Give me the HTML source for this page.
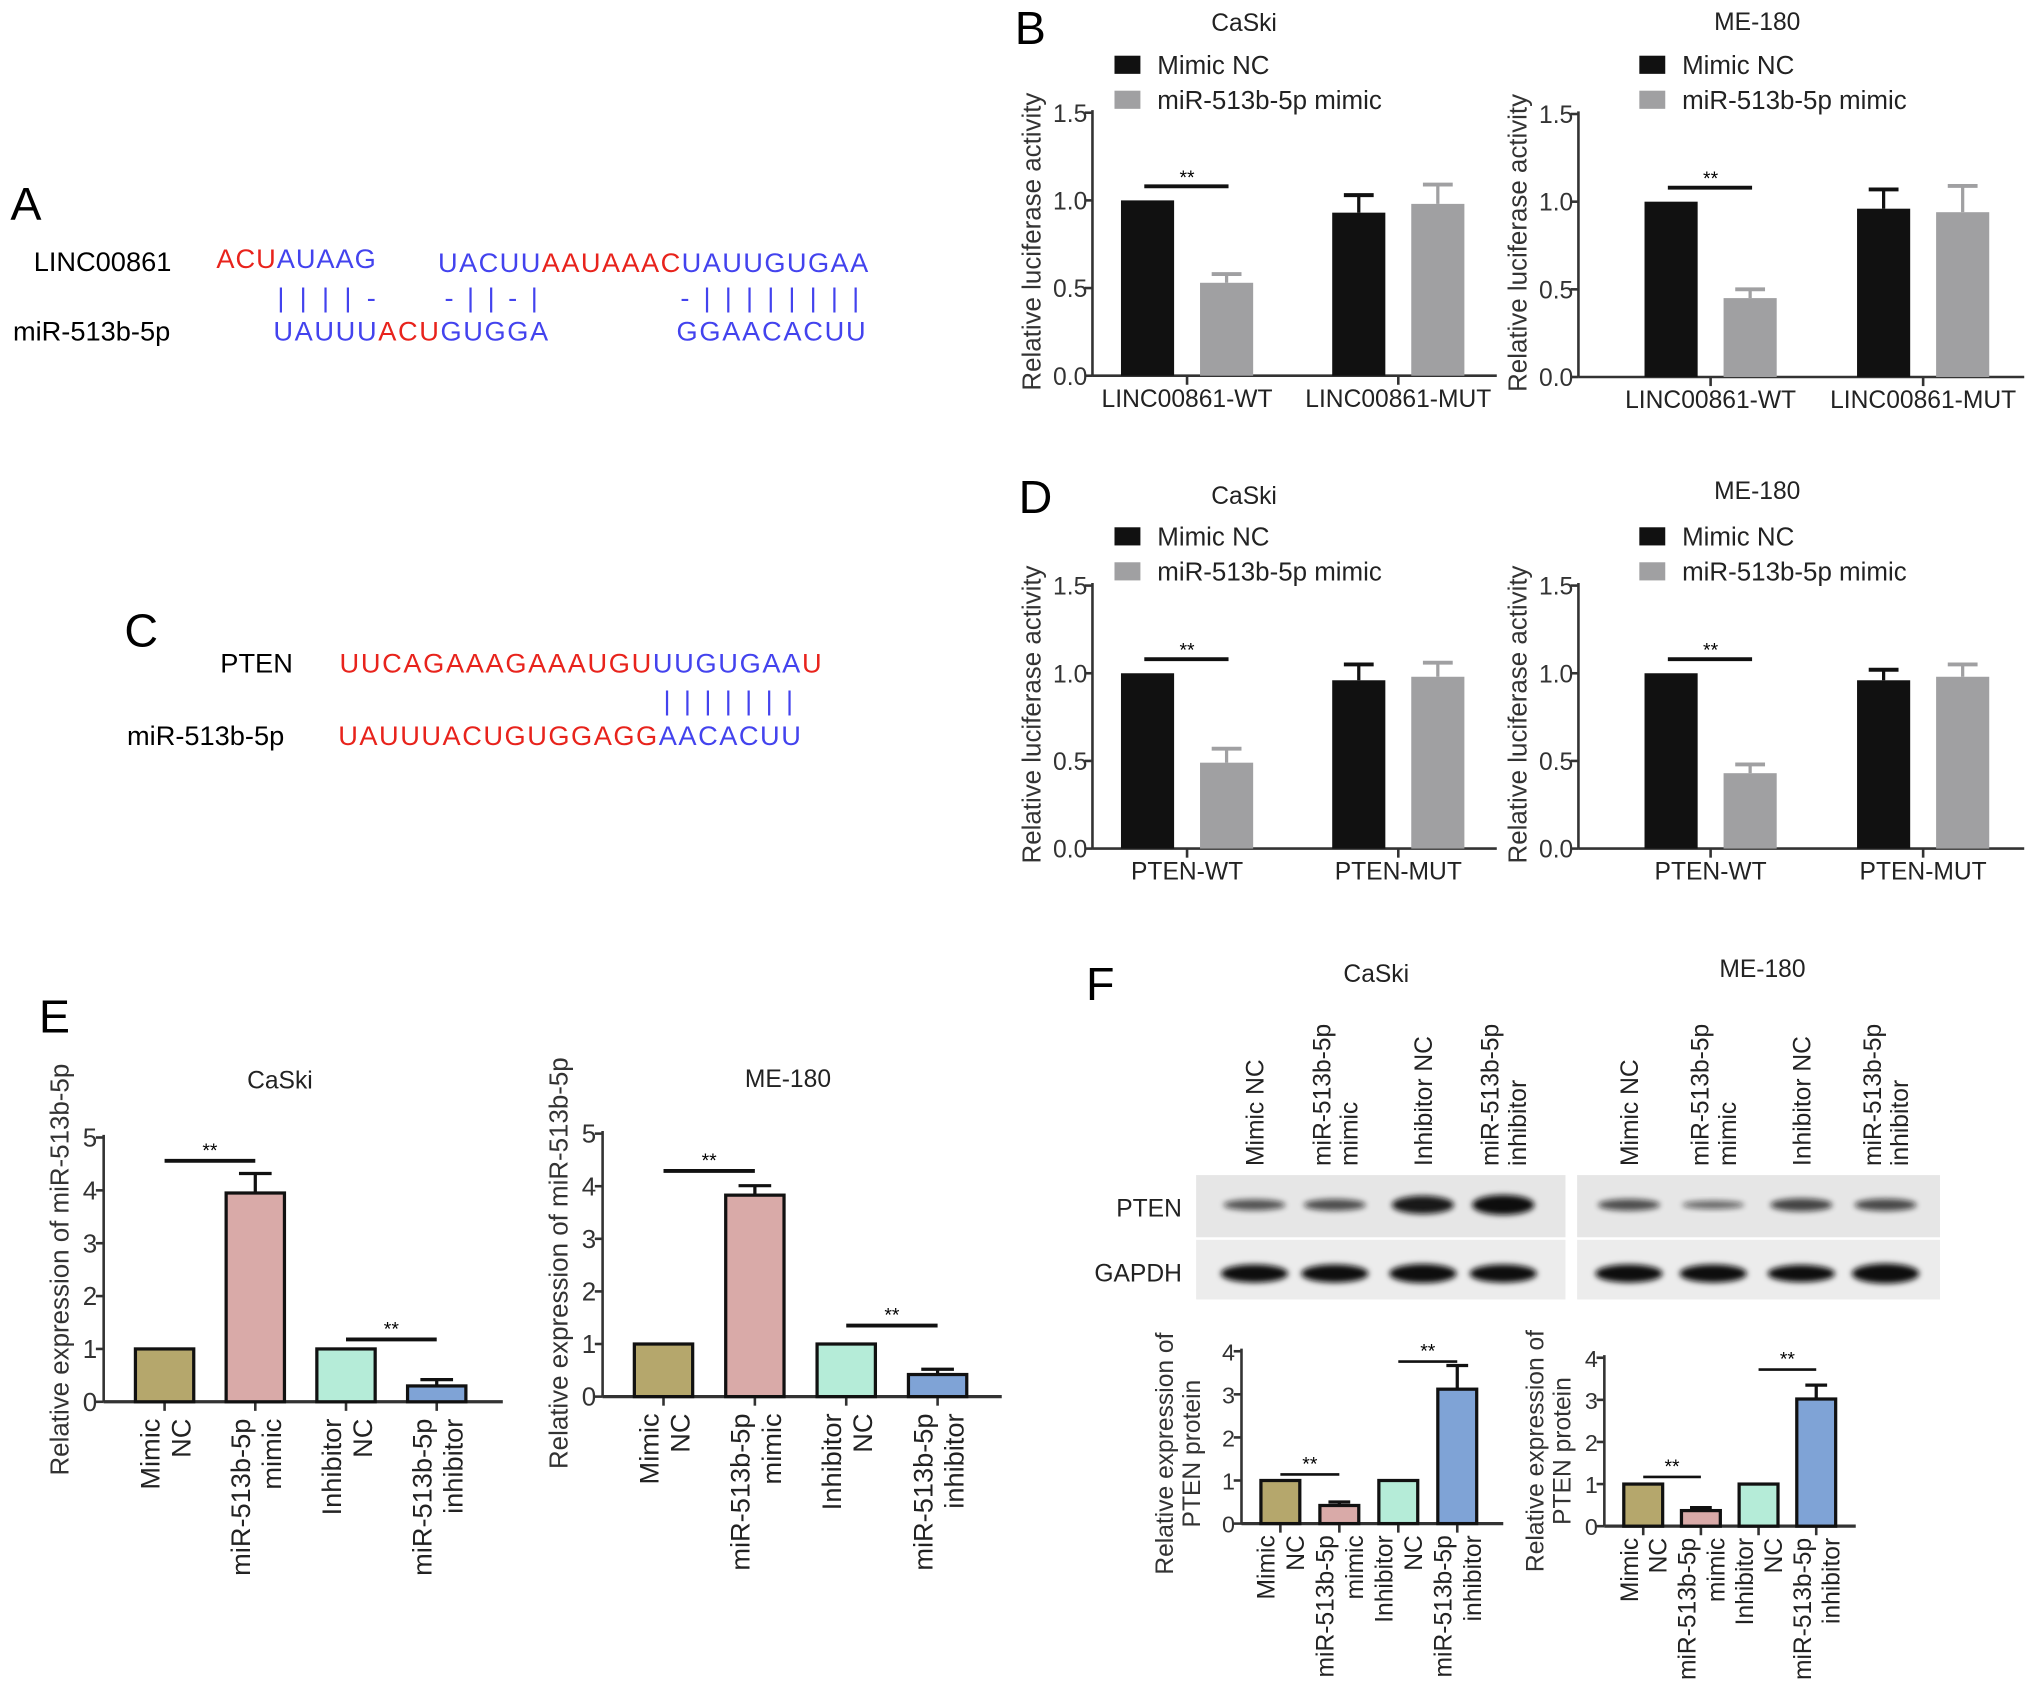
<!DOCTYPE html>
<html><head><meta charset="utf-8"><style>
html,body{margin:0;padding:0;background:#fff;}
svg{display:block;font-family:"Liberation Sans",Arial,sans-serif;}
</style></head><body>
<svg id="fig" xmlns="http://www.w3.org/2000/svg" width="2032" height="1692" viewBox="0 0 1568 1306" preserveAspectRatio="none">
<defs><filter id="blur" x="-20%" y="-50%" width="140%" height="200%"><feGaussianBlur stdDeviation="2.2"/></filter></defs>
<g font-size="21">
<text x="8" y="170" font-size="36">A</text>
<text x="26" y="209">LINC00861</text>
<text x="167" y="207" textLength="123"><tspan fill="#e8231c">ACU</tspan><tspan fill="#4343ee">AUAAG</tspan></text>
<text x="338" y="210" textLength="332"><tspan fill="#4343ee">UACUU</tspan><tspan fill="#e8231c">AAUAAAC</tspan><tspan fill="#4343ee">UAUUGUGAA</tspan></text>
<text x="214" y="237" fill="#4343ee" textLength="76" xml:space="preserve">| | | | -</text>
<text x="343" y="237" fill="#4343ee" textLength="72" xml:space="preserve">- | | - |</text>
<text x="525" y="237" fill="#4343ee" textLength="138" xml:space="preserve">- | | | | | | | |</text>
<text x="10" y="263">miR-513b-5p</text>
<text x="211" y="263" textLength="212"><tspan fill="#4343ee">UAUUU</tspan><tspan fill="#e8231c">ACU</tspan><tspan fill="#4343ee">GUGGA</tspan></text>
<text x="522" y="263" fill="#4343ee" textLength="146">GGAACACUU</text>
</g>
<g font-size="21">
<text x="96" y="499" font-size="36">C</text>
<text x="170" y="519">PTEN</text>
<text x="262" y="519" textLength="372"><tspan fill="#e8231c">UUCAGAAAGAAAUGU</tspan><tspan fill="#4343ee">UUGUGAA</tspan><tspan fill="#e8231c">U</tspan></text>
<text x="512" y="548" fill="#4343ee" textLength="100" xml:space="preserve">| | | | | | |</text>
<text x="98" y="575">miR-513b-5p</text>
<text x="261" y="575" textLength="357"><tspan fill="#e8231c">UAUUUACUGUGGAGG</tspan><tspan fill="#4343ee">AACACUU</tspan></text>
</g>
<text x="783" y="34" font-size="36">B</text>
<text x="786" y="396" font-size="36">D</text>
<text x="30" y="797" font-size="36">E</text>
<text x="838" y="772" font-size="36">F</text>
<g id="charts"></g>
</svg>
<script>
// Luciferase data (B, D)
const lucGroupsB = ["LINC00861-WT", "LINC00861-MUT"];
const lucGroupsD = ["PTEN-WT", "PTEN-MUT"];
const lucTicks = [0, 0.5, 1.0, 1.5];
const lucTickLabels = ["0.0", "0.5", "1.0", "1.5"];
const bCaskiNC = [1.0, 0.93];
const bCaskiNCErr = [0, 0.10];
const bCaskiMimic = [0.53, 0.98];
const bCaskiMimicErr = [0.05, 0.11];
const bMeNC = [1.0, 0.96];
const bMeNCErr = [0, 0.11];
const bMeMimic = [0.45, 0.94];
const bMeMimicErr = [0.05, 0.15];
const dCaskiNC = [1.0, 0.96];
const dCaskiNCErr = [0, 0.09];
const dCaskiMimic = [0.49, 0.98];
const dCaskiMimicErr = [0.08, 0.08];
const dMeNC = [1.0, 0.96];
const dMeNCErr = [0, 0.06];
const dMeMimic = [0.43, 0.98];
const dMeMimicErr = [0.05, 0.07];
const lucSig = 1.08;
// miR expression (E)
const eCategories = [["Mimic","NC"],["miR-513b-5p","mimic"],["Inhibitor","NC"],["miR-513b-5p","inhibitor"]];
const eTicks = [0,1,2,3,4,5];
const eCaski = [1, 3.95, 1, 0.30];
const eCaskiErr = [0, 0.37, 0, 0.12];
const eMe = [1, 3.83, 1, 0.42];
const eMeErr = [0, 0.18, 0, 0.10];
const eCaskiSig = [4.56, 1.18];
const eMeSig = [4.29, 1.35];
// PTEN protein (F)
const fTicks = [0,1,2,3,4];
const fCaski = [1, 0.42, 1, 3.12];
const fCaskiErr = [0, 0.08, 0, 0.55];
const fMe = [1, 0.37, 1, 3.02];
const fMeErr = [0, 0.07, 0, 0.33];
const fCaskiSig = [1.14, 3.76];
const fMeSig = [1.17, 3.72];
const fLabels = ["Mimic","NC","miR-513b-5p","mimic","Inhibitor","NC","miR-513b-5p","inhibitor"];
const barColors = ["#b5a76c","#d9aaa8","#b5ecd8","#7fa3d6"];
const laneLabels = [["Mimic NC"],["miR-513b-5p","mimic"],["Inhibitor NC"],["miR-513b-5p","inhibitor"]];
const ptenCaski = [0.45, 0.5, 1.0, 1.15];
const ptenMe = [0.5, 0.25, 0.6, 0.55];
const gapdhCaski = [1, 1, 1.05, 1];
const gapdhMe = [1, 1, 0.95, 1.1];

const NS = "http://www.w3.org/2000/svg";
const root = document.getElementById("charts");
function mk(tag, attrs, parent, txt){
  const e = document.createElementNS(NS, tag);
  for (const k in attrs) e.setAttribute(k, attrs[k]);
  if (txt !== undefined) e.textContent = txt;
  (parent || root).appendChild(e);
  return e;
}
function grp(name){ const g = mk("g", {});
  
  
  return g; }

function lucChart(o){
  const g = grp(o.name);
  const y = v => o.y0 - (v/1.5)*(o.y0-o.y1);
  const axY = mk("line",{x1:o.x0,y1:o.y1-2,x2:o.x0,y2:o.y0,stroke:"#333","stroke-width":2},g);
  
  
  const axX = mk("line",{x1:o.x0,y1:o.y0,x2:o.xEnd,y2:o.y0,stroke:"#333","stroke-width":2},g);
  
  
  lucTicks.forEach((t,i)=>{
    mk("line",{x1:o.x0-6,y1:y(t),x2:o.x0,y2:y(t),stroke:"#333","stroke-width":2},g);
    const tl = mk("text",{x:o.x0-4,y:y(t)+7,"text-anchor":"end","font-size":19,fill:"#333"},g,lucTickLabels[i]);
    
    
  });
  const yl = mk("text",{x:0,y:0,"font-size":20,"text-anchor":"middle",fill:"#333",transform:`translate(${o.x0-40},${(o.y0+o.y1)/2-2}) rotate(-90)`},g,"Relative luciferase activity");
  
  
  const tt = mk("text",{x:o.titleX,y:o.titleY,"font-size":19,"text-anchor":"middle",fill:"#222"},g,o.title);
  
  
  [["Mimic NC","#111"],["miR-513b-5p mimic","#a0a0a2"]].forEach((L,i)=>{
    const ly = o.legY + i*27;
    const sq = mk("rect",{x:o.legX,y:ly-7,width:20,height:14,fill:L[1]},g);
    
    
    const lt = mk("text",{x:o.legX+33,y:ly+7,"font-size":20,fill:"#222"},g,L[0]);
    
    
  });
  o.groups.forEach((lab,gi)=>{
    const c = o.c0 + gi*o.step;
    mk("line",{x1:c,y1:o.y0,x2:c,y2:o.y0+7,stroke:"#333","stroke-width":2},g);
    const xl = mk("text",{x:c,y:o.y0+24,"font-size":19,"text-anchor":"middle",fill:"#222"},g,lab);
    
    
    [[o.nc,o.ncErr,"#111",-30.5],[o.mi,o.miErr,"#a0a0a2",30.5]].forEach(s=>{
      const v=s[0][gi], e=s[1][gi], bx=c+s[3]-20.5;
      if(e>0){ mk("line",{x1:bx+20.5,y1:y(v),x2:bx+20.5,y2:y(v+e),stroke:s[2],"stroke-width":2.5},g);
        mk("line",{x1:bx+9,y1:y(v+e),x2:bx+32,y2:y(v+e),stroke:s[2],"stroke-width":3},g); }
      const b = mk("rect",{x:bx,y:y(v),width:41,height:o.y0-y(v),fill:s[2]},g);
      
      
    });
  });
  const c = o.c0;
  const sl = mk("line",{x1:c-33,y1:y(lucSig),x2:c+32,y2:y(lucSig),stroke:"#111","stroke-width":3},g);
  
  
  mk("text",{x:c,y:y(lucSig)-2,"font-size":15,"text-anchor":"middle"},g,"**");
}
lucChart({name:"chart-b-caski",x0:843,xEnd:1155,y0:290,y1:87,c0:916,step:163,groups:lucGroupsB,nc:bCaskiNC,ncErr:bCaskiNCErr,mi:bCaskiMimic,miErr:bCaskiMimicErr,title:"CaSki",titleX:960,titleY:24,legX:860,legY:50});
lucChart({name:"chart-b-me180",x0:1218,xEnd:1562,y0:291,y1:88,c0:1320,step:164,groups:lucGroupsB,nc:bMeNC,ncErr:bMeNCErr,mi:bMeMimic,miErr:bMeMimicErr,title:"ME-180",titleX:1356,titleY:23,legX:1265,legY:50});
lucChart({name:"chart-d-caski",x0:843,xEnd:1155,y0:655,y1:452,c0:916,step:163,groups:lucGroupsD,nc:dCaskiNC,ncErr:dCaskiNCErr,mi:dCaskiMimic,miErr:dCaskiMimicErr,title:"CaSki",titleX:960,titleY:389,legX:860,legY:414});
lucChart({name:"chart-d-me180",x0:1218,xEnd:1562,y0:655,y1:452,c0:1320,step:164,groups:lucGroupsD,nc:dMeNC,ncErr:dMeNCErr,mi:dMeMimic,miErr:dMeMimicErr,title:"ME-180",titleX:1356,titleY:385,legX:1265,legY:414});

function expChart(o){
  const g = grp(o.name);
  const mx = o.ticks[o.ticks.length-1];
  const y = v => o.y0 - (v/mx)*(o.y0-o.y1);
  const axY = mk("line",{x1:o.x0,y1:o.y1-2,x2:o.x0,y2:o.y0,stroke:"#333","stroke-width":2},g);
  
  
  const axX = mk("line",{x1:o.x0,y1:o.y0,x2:o.xEnd,y2:o.y0,stroke:"#333","stroke-width":2.5},g);
  
  
  o.ticks.forEach(t=>{
    mk("line",{x1:o.x0-6,y1:y(t),x2:o.x0,y2:y(t),stroke:"#333","stroke-width":2},g);
    const tl = mk("text",{x:o.x0-5,y:y(t)+7,"text-anchor":"end","font-size":o.fs,fill:"#333"},g,String(t));
    
    
  });
  o.ylab.forEach((s,i)=>{
    const yl = mk("text",{x:0,y:0,"font-size":o.yfs,"text-anchor":"middle",fill:"#333",transform:`translate(${o.ylX+i*21},${o.ylY}) rotate(-90)`},g,s);
    
    
  });
  if(o.title){ const tt = mk("text",{x:o.titleX,y:o.titleY,"font-size":19,"text-anchor":"middle",fill:"#222"},g,o.title);
    
     }
  o.vals.forEach((v,i)=>{
    const c = o.c0 + i*o.step, e=o.err[i], w=o.bw;
    mk("line",{x1:c,y1:o.y0,x2:c,y2:o.y0+7,stroke:"#333","stroke-width":2},g);
    if(e>0){ mk("line",{x1:c,y1:y(v),x2:c,y2:y(v+e),stroke:"#111","stroke-width":2.5},g);
      mk("line",{x1:c-w*0.28,y1:y(v+e),x2:c+w*0.28,y2:y(v+e),stroke:"#111","stroke-width":2.5},g); }
    const b = mk("rect",{x:c-w/2,y:y(v),width:w,height:o.y0-y(v),fill:barColors[i],stroke:"#111","stroke-width":2.5},g);
    
    
  });
  o.sig.forEach((s,k)=>{
    const a = o.c0 + (2*k)*o.step, bb = o.c0+(2*k+1)*o.step;
    const sl = mk("line",{x1:a,y1:y(s),x2:bb,y2:y(s),stroke:"#111","stroke-width":o.sigW},g);
    
    
    mk("text",{x:(a+bb)/2,y:y(s)-3,"font-size":15,"text-anchor":"middle"},g,"**");
  });
  o.xl(g, o);
}
function eLabels(g,o){
  eCategories.forEach((c,i)=>{
    const cx=o.c0+i*o.step;
    c.forEach((s,j)=>{
      const t = mk("text",{x:0,y:0,"font-size":21,"text-anchor":"end",fill:"#222",transform:`translate(${cx-4+j*24},${o.y0+13}) rotate(-90)`},g,s);
      
      
    });
  });
}
function fLabels2(g,o){
  fLabels.forEach((s,i)=>{
    const cx=o.c0 - o.step/4 + i*o.step/2;
    const t = mk("text",{x:0,y:0,"font-size":19,"text-anchor":"end",fill:"#222",transform:`translate(${cx+7},${o.y0+9}) rotate(-90)`},g,s);
    
    
  });
}
expChart({name:"chart-e-caski",x0:80,xEnd:388,y0:1082,y1:878,c0:127,step:70,bw:45,ticks:eTicks,fs:20,yfs:20,vals:eCaski,err:eCaskiErr,sig:eCaskiSig,sigW:3,ylab:["Relative expression of miR-513b-5p"],ylX:53,ylY:980,title:"CaSki",titleX:216,titleY:840,xl:eLabels});
expChart({name:"chart-e-me180",x0:465,xEnd:773,y0:1078,y1:875,c0:512,step:70.5,bw:45,ticks:eTicks,fs:20,yfs:20,vals:eMe,err:eMeErr,sig:eMeSig,sigW:3,ylab:["Relative expression of miR-513b-5p"],ylX:438,ylY:975,title:"ME-180",titleX:608,titleY:839,xl:eLabels});
expChart({name:"chart-f-caski",x0:958,xEnd:1160,y0:1176,y1:1043,c0:988,step:45.5,bw:30,ticks:fTicks,fs:18,yfs:19,vals:fCaski,err:fCaskiErr,sig:fCaskiSig,sigW:2,ylab:["Relative expression of","PTEN protein"],ylX:905,ylY:1122,xl:fLabels2});
expChart({name:"chart-f-me180",x0:1238,xEnd:1432,y0:1178,y1:1048,c0:1268,step:44.5,bw:30,ticks:fTicks,fs:18,yfs:19,vals:fMe,err:fMeErr,sig:fMeSig,sigW:2,ylab:["Relative expression of","PTEN protein"],ylX:1191,ylY:1120,xl:fLabels2});

// Western blots
function blot(name, x0, w, lanes, pten, gapdh, title, tx, ty){
  const g = grp(name);
  const tt = mk("text",{x:tx,y:ty,"font-size":19,"text-anchor":"middle",fill:"#222"},g,title);
  
  
  const r1 = mk("rect",{x:x0,y:907,width:w,height:48,fill:"#e6e6e6"},g);
  
  
  const r2 = mk("rect",{x:x0,y:957,width:w,height:46,fill:"#ececec"},g);
  
  
  lanes.forEach((c,i)=>{
    const p = mk("ellipse",{cx:c,cy:930,rx:24,ry:2+5*pten[i],fill:"#111",opacity:Math.min(1,0.45+0.5*pten[i]),filter:"url(#blur)"},g);
    
    
    const q = mk("ellipse",{cx:c,cy:983,rx:26,ry:7*gapdh[i],fill:"#111",filter:"url(#blur)"},g);
    
    
    laneLabels[i].forEach((s,j)=>{
      const n = laneLabels[i].length;
      const t = mk("text",{x:0,y:0,"font-size":19,fill:"#222",transform:`translate(${c+7+(j-(n-1)/2)*21},${900}) rotate(-90)`},g,s);
      
      
    });
  });
}
blot("blot-caski", 923, 285, [968,1030,1098,1160], ptenCaski, gapdhCaski, "CaSki", 1062, 758);
blot("blot-me180", 1217, 280, [1257,1322,1390,1455], ptenMe, gapdhMe, "ME-180", 1360, 754);
const pl = mk("text",{x:912,y:939,"font-size":19,"text-anchor":"end",fill:"#222"},root,"PTEN");


const gl = mk("text",{x:912,y:989,"font-size":19,"text-anchor":"end",fill:"#222"},root,"GAPDH");


</script>
</body></html>
